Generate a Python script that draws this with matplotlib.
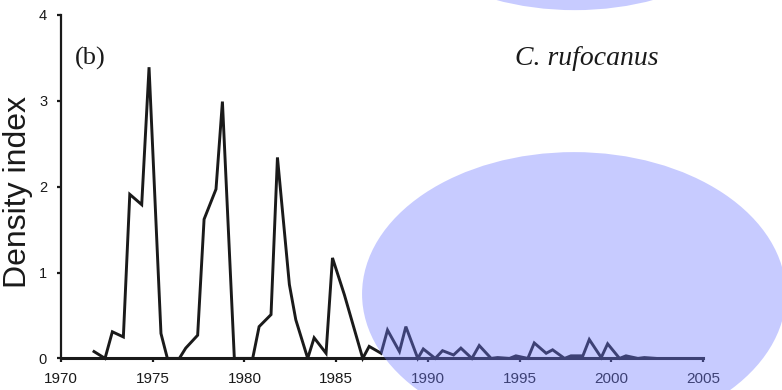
import matplotlib
matplotlib.use("Agg")
import matplotlib.pyplot as plt
from matplotlib.patches import Ellipse

# Semi-annual density index (spring / fall)
years = [1971.8, 1972.4, 1972.8, 1973.4, 1973.75, 1974.4, 1974.8, 1975.45, 1975.8,
         1976.45, 1976.8, 1977.45, 1977.8, 1978.45, 1978.8, 1979.45, 1979.8, 1980.45,
         1980.8, 1981.45, 1981.8, 1982.45, 1982.8, 1983.45, 1983.8, 1984.45, 1984.8,
         1985.45, 1986.45, 1986.8, 1987.45, 1987.8, 1988.45, 1988.8, 1989.45, 1989.75,
         1990.4, 1990.8, 1991.4, 1991.8, 1992.4, 1992.8, 1993.45, 1993.8, 1994.45,
         1994.8, 1995.45, 1995.8, 1996.45, 1996.8, 1997.45, 1997.8, 1998.45, 1998.8,
         1999.45, 1999.8, 2000.45, 2000.8, 2001.45, 2001.8, 2002.45]
density = [0.08, 0.0, 0.31, 0.25, 1.91, 1.79, 3.39, 0.29, 0.0,
           0.0, 0.12, 0.27, 1.62, 1.97, 2.99, 0.0, 0.0, 0.0,
           0.37, 0.51, 2.34, 0.86, 0.45, 0.0, 0.24, 0.06, 1.17,
           0.74, 0.0, 0.14, 0.06, 0.33, 0.08, 0.37, 0.0, 0.11,
           0.0, 0.09, 0.04, 0.12, 0.0, 0.15, 0.0, 0.01, 0.0,
           0.03, 0.0, 0.18, 0.06, 0.10, 0.0, 0.03, 0.03, 0.22,
           0.01, 0.17, 0.0, 0.03, 0.0, 0.01, 0.0]

xticks = [1970, 1975, 1980, 1985, 1990, 1995, 2000, 2005]
yticks = [0, 1, 2, 3, 4]

fig = plt.figure(figsize=(7.82, 3.9), dpi=100)
ax = fig.add_axes([0.078, 0.081, 0.821, 0.881])

ax.plot(years, density, color="#1a1a1a", linewidth=2.1, solid_joinstyle="miter",
        clip_on=False, zorder=3)

ax.set_xlim(1970, 2005)
ax.set_ylim(0, 4)
ax.set_xticks(xticks)
ax.set_yticks(yticks)
for side in ["top", "right"]:
    ax.spines[side].set_visible(False)
ax.spines["left"].set_linewidth(1.6)
ax.spines["bottom"].set_linewidth(2.2)
ax.spines["left"].set_color("#1a1a1a")
ax.spines["bottom"].set_color("#1a1a1a")
ax.tick_params(axis="both", direction="out", length=3, width=1.6, colors="#1a1a1a",
               labelfontfamily="Liberation Sans")
ax.tick_params(axis="x", labelsize=11, pad=7)
ax.tick_params(axis="y", labelsize=10.5, pad=7)

ax.set_ylabel("Density index", fontsize=23, family="Liberation Sans",
              color="#1a1a1a")
ax.yaxis.set_label_coords(-0.044, 0.485)

ax.text(0.022, 0.854, "(b)", transform=ax.transAxes, fontsize=19,
        family="Liberation Serif", color="#1a1a1a", va="baseline")
ax.text(0.93, 0.854, "C. rufocanus", transform=ax.transAxes, fontsize=20,
        family="Liberation Serif", style="italic", color="#1a1a1a",
        ha="right", va="baseline")

# translucent highlight ellipses drawn on top of the figure
for cx, cy in [(0.734, 0.246), (0.735, 1.338)]:
    e = Ellipse((cx, cy), 0.542, 0.728, transform=fig.transFigure,
                facecolor=(0.45, 0.49, 1.0), edgecolor="none", alpha=0.4,
                zorder=10, clip_on=False)
    fig.add_artist(e)

plt.savefig("out.png", dpi=100)
